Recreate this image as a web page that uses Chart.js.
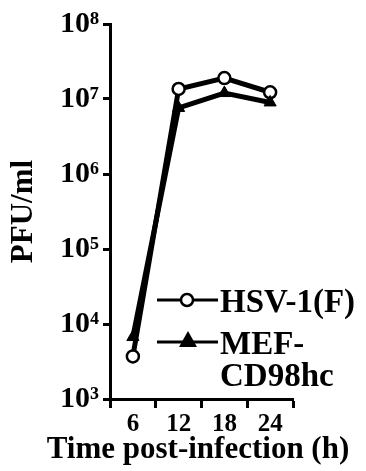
<!DOCTYPE html>
<html>
<head>
<meta charset="utf-8">
<script src="https://cdn.jsdelivr.net/npm/chart.js@4/dist/chart.umd.min.js"></script>
<style>
  html, body { margin: 0; padding: 0; background: #fff; }
  #wrap { width: 366px; height: 471px; }
</style>
</head>
<body>
<div id="wrap"><canvas id="growth" width="366" height="471"></canvas></div>
<script>
// Time points (h) and titers (PFU/ml)
const hours = ["6", "12", "18", "24"];
const hsvTiter = [3700, 13600000, 19000000, 12300000];
const mefTiter = [6700, 7600000, 12000000, 9000000];
const yTicks = [1e3, 1e4, 1e5, 1e6, 1e7, 1e8];
const xTitle = "Time post-infection (h)";

const legendRows = [
  { lines: ["HSV-1(F)"], marker: "circle" },
  { lines: ["MEF-", "CD98hc"], marker: "triangle" }
];

const serif = "'Liberation Serif', 'Times New Roman', serif";
const sup = ["\u2070", "\u00b9", "\u00b2", "\u00b3", "\u2074", "\u2075", "\u2076", "\u2077", "\u2078", "\u2079"];

// Legend next to the curves + x title (Chart.js squeezes a title wider than the axis)
const sideLegend = {
  id: "sideLegend",
  afterDraw(chart) {
    const ctx = chart.ctx;
    const rowY = [300, 342];
    ctx.save();
    legendRows.forEach((row, i) => {
      const y = rowY[i];
      ctx.strokeStyle = "#000";
      ctx.lineWidth = 3;
      ctx.beginPath();
      ctx.moveTo(157, y);
      ctx.lineTo(218, y);
      ctx.stroke();
      if (row.marker === "circle") {
        ctx.beginPath();
        ctx.arc(187, y, 6, 0, Math.PI * 2);
        ctx.fillStyle = "#fff";
        ctx.fill();
        ctx.lineWidth = 2.5;
        ctx.stroke();
      } else {
        ctx.beginPath();
        ctx.moveTo(188, y - 11);
        ctx.lineTo(197, y + 5);
        ctx.lineTo(179, y + 5);
        ctx.closePath();
        ctx.fillStyle = "#000";
        ctx.fill();
      }
      ctx.fillStyle = "#000";
      ctx.font = "bold 33px " + serif;
      ctx.textAlign = "left";
      ctx.textBaseline = "alphabetic";
      row.lines.forEach((t, k) => ctx.fillText(t, 220, y + 12 + k * 32));
    });
    ctx.font = "bold 31px " + serif;
    ctx.textAlign = "center";
    ctx.fillText(xTitle, 198, 458);
    ctx.restore();
  }
};

new Chart(document.getElementById("growth"), {
  type: "line",
  data: {
    labels: hours,
    datasets: [
      {
        label: "MEF-CD98hc",
        data: mefTiter,
        borderColor: "#000",
        borderWidth: 5,
        pointStyle: "triangle",
        pointRadius: 7,
        pointBackgroundColor: "#000",
        pointBorderColor: "#000",
        pointBorderWidth: 1
      },
      {
        label: "HSV-1(F)",
        data: hsvTiter,
        borderColor: "#000",
        borderWidth: 5,
        pointStyle: "circle",
        pointRadius: 6,
        pointBackgroundColor: "#fff",
        pointBorderColor: "#000",
        pointBorderWidth: 2.5
      }
    ]
  },
  options: {
    responsive: false,
    animation: false,
    devicePixelRatio: 1,
    layout: { padding: { top: 24, right: 73, left: 0, bottom: 0 } },
    plugins: { legend: { display: false }, tooltip: { enabled: false } },
    scales: {
      x: {
        type: "category",
        offset: true,
        afterFit: s => { s.height = 72; },
        grid: { offset: true, drawOnChartArea: false, tickLength: 9, tickWidth: 3, tickColor: "#000" },
        border: { display: true, width: 3, color: "#000" },
        ticks: { color: "#000", padding: 2, font: { family: serif, size: 25, weight: "bold" } },
        title: { display: false }
      },
      y: {
        type: "logarithmic",
        min: 1e3,
        max: 1e8,
        afterBuildTicks: s => { s.ticks = yTicks.map(v => ({ value: v })); },
        afterFit: s => { s.width = 110; },
        grid: { drawOnChartArea: false, tickLength: 7, tickWidth: 3, tickColor: "#000" },
        border: { display: true, width: 3, color: "#000" },
        ticks: {
          color: "#000",
          padding: 4,
          font: { family: serif, size: 30, weight: "bold" },
          callback: v => "10" + sup[Math.round(Math.log10(v))]
        },
        title: {
          display: true,
          text: "PFU/ml",
          color: "#000",
          padding: { top: 5, bottom: 0 },
          font: { family: serif, size: 31, weight: "bold" }
        }
      }
    }
  },
  plugins: [sideLegend]
});
</script>
</body>
</html>
